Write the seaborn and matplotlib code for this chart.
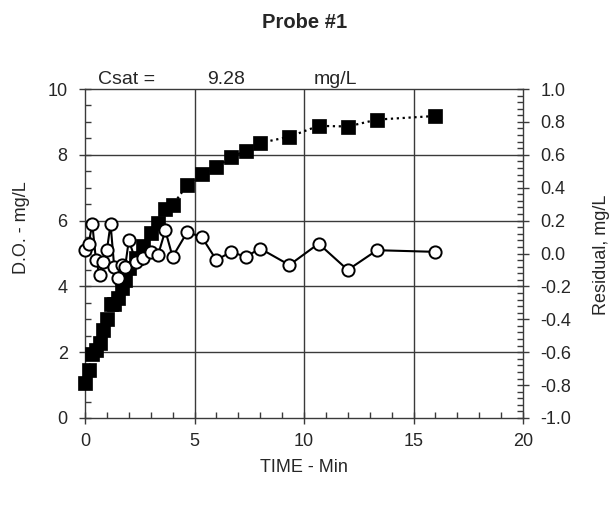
import matplotlib
matplotlib.use("Agg")
import matplotlib.pyplot as plt
import seaborn as sns
import pandas as pd
from matplotlib.ticker import MultipleLocator

# ---- data ----
time_min = [0, 0.167, 0.333, 0.5, 0.667, 0.833, 1.0, 1.167, 1.333, 1.5,
            1.667, 1.833, 2.0, 2.333, 2.667, 3.0, 3.333, 3.667, 4.0, 4.667,
            5.333, 6.0, 6.667, 7.333, 8.0, 9.333, 10.667, 12.0, 13.333, 16.0]
do_mgL = [1.07, 1.47, 1.94, 2.06, 2.28, 2.66, 3.02, 3.45, 3.46, 3.64,
          3.96, 4.18, 4.56, 4.85, 5.24, 5.63, 5.92, 6.36, 6.47, 7.08,
          7.43, 7.62, 7.93, 8.12, 8.36, 8.55, 8.88, 8.86, 9.07, 9.18]
residual_mgL = [0.02, 0.06, 0.18, -0.04, -0.13, -0.05, 0.02, 0.18, -0.08, -0.15,
                -0.07, -0.08, 0.08, -0.05, -0.03, 0.01, -0.01, 0.14, -0.02, 0.13,
                0.10, -0.04, 0.01, -0.02, 0.03, -0.07, 0.06, -0.10, 0.02, 0.01]
x_ticks = [0, 5, 10, 15, 20]
y_ticks = [0, 2, 4, 6, 8, 10]
r_ticks = [-1.0, -0.8, -0.6, -0.4, -0.2, 0.0, 0.2, 0.4, 0.6, 0.8, 1.0]
title = "Probe #1"
csat_value = "9.28"

sns.set_style("ticks")
plt.rcParams['font.family'] = ['Liberation Sans', 'DejaVu Sans']
plt.rcParams['font.size'] = 13

df = pd.DataFrame({"time": time_min, "do": do_mgL, "res": residual_mgL})

W, H = 611, 508
fig = plt.figure(figsize=(W / 100, H / 100), dpi=100)
ax = fig.add_axes([85 / W, 1 - 418 / H, (523 - 85) / W, (418 - 89) / H])

gcol = '#3a3a3a'
sns.lineplot(data=df, x="time", y="do", ax=ax, color='black', linestyle=':',
             linewidth=1.6, marker='s', markersize=10.3, markerfacecolor='black',
             markeredgecolor='black', markeredgewidth=0.5, sort=False,
             estimator=None, zorder=3, clip_on=False)
ax.set_xlim(0, 20)
ax.set_ylim(0, 10)
ax.set_xticks(x_ticks)
ax.set_yticks(y_ticks)
ax.xaxis.set_minor_locator(MultipleLocator(1))
ax.yaxis.set_minor_locator(MultipleLocator(0.5))
ax.set_xlabel("")
ax.set_ylabel("")
for xv in x_ticks[1:-1]:
    ax.axvline(xv, color=gcol, lw=1, zorder=1)
for yv in y_ticks[1:-1]:
    ax.axhline(yv, color=gcol, lw=1, zorder=1)
for s in ax.spines.values():
    s.set_color(gcol)
    s.set_linewidth(1)
ax.tick_params(which='major', direction='inout', length=9, width=1,
               color=gcol, labelsize=13, pad=6)
ax.tick_params(axis='y', which='major', pad=8)
ax.tick_params(which='minor', direction='in', length=4, width=1, color=gcol)
ax.tick_params(top=False, right=False, which='both')

ax2 = ax.twinx()
sns.lineplot(data=df, x="time", y="res", ax=ax2, color='black', linestyle='-',
             linewidth=1.5, marker='o', markersize=8.8, markerfacecolor='white',
             markeredgecolor='black', markeredgewidth=1.4, sort=False,
             estimator=None, zorder=4, clip_on=False)
ax2.set_ylim(-1.0, 1.0)
ax2.set_yticks(r_ticks)
ax2.set_yticklabels([f"{v:.1f}" for v in r_ticks])
ax2.yaxis.set_minor_locator(MultipleLocator(0.04))
ax2.set_ylabel("")
for s in ax2.spines.values():
    s.set_visible(False)
ax2.tick_params(axis='y', which='major', direction='inout', length=9, width=1,
                color=gcol, labelsize=13, pad=8)
ax2.tick_params(axis='y', which='minor', direction='in', length=4, width=1, color=gcol)

fig.text(305 / W, 1 - 22 / H, title, ha='center', va='center',
         fontsize=14.5, fontweight='bold')
fig.text(98 / W, 1 - 84 / H, "Csat =", ha='left', va='baseline', fontsize=14)
fig.text(207 / W, 1 - 84 / H, csat_value, ha='left', va='baseline', fontsize=14)
fig.text(314 / W, 1 - 84 / H, "mg/L", ha='left', va='baseline', fontsize=14)
fig.text(304 / W, 1 - 468 / H, "TIME - Min", ha='center', va='center', fontsize=13)
fig.text(22 / W, 1 - 228 / H, "D.O. - mg/L", ha='center', va='center',
         rotation=90, fontsize=13)
fig.text(601 / W, 1 - 255 / H, "Residual, mg/L", ha='center', va='center',
         rotation=90, fontsize=13)

fig.savefig("out.png", dpi=100)
